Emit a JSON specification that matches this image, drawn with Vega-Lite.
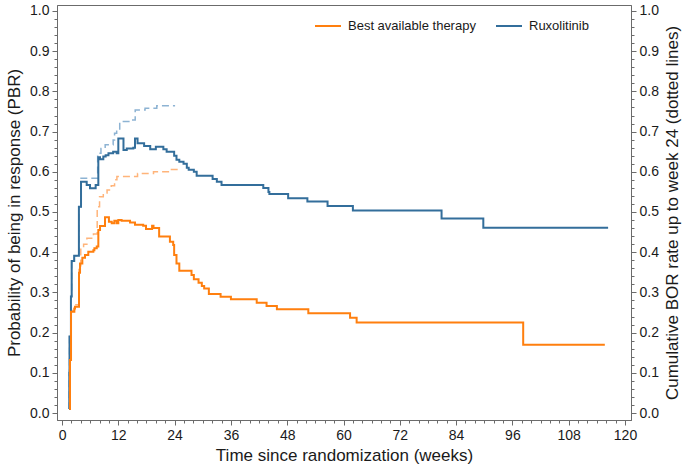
{
  "$schema": "https://vega.github.io/schema/vega-lite/v6.json",
  "width": 574,
  "height": 415,
  "autosize": {"type": "none"},
  "padding": {"left": 57, "top": 5, "right": 54, "bottom": 48},
  "config": {
    "font": "Liberation Sans",
    "view": {"stroke": "#6b6b6b", "strokeWidth": 1},
    "axis": {
      "domainColor": "#6b6b6b",
      "tickColor": "#6b6b6b",
      "labelColor": "#1a1a1a",
      "titleColor": "#1a1a1a",
      "labelFont": "Liberation Sans",
      "titleFont": "Liberation Sans",
      "labelFontSize": 14,
      "titleFontSize": 17,
      "titleFontWeight": "normal",
      "grid": false,
      "labelOverlap": false,
      "labelFlush": false,
      "labelBound": false
    },
    "legend": {
      "labelFont": "Liberation Sans",
      "labelFontSize": 13,
      "labelColor": "#1a1a1a"
    }
  },
  "data": {
    "values": [
      {"arm": "Ruxolitinib", "kind": "PBR", "week": 1.5, "p": 0.01},
      {"arm": "Ruxolitinib", "kind": "PBR", "week": 1.55, "p": 0.1},
      {"arm": "Ruxolitinib", "kind": "PBR", "week": 1.6, "p": 0.19},
      {"arm": "Ruxolitinib", "kind": "PBR", "week": 1.9, "p": 0.29},
      {"arm": "Ruxolitinib", "kind": "PBR", "week": 2.06, "p": 0.378},
      {"arm": "Ruxolitinib", "kind": "PBR", "week": 2.6, "p": 0.391},
      {"arm": "Ruxolitinib", "kind": "PBR", "week": 3.6, "p": 0.513},
      {"arm": "Ruxolitinib", "kind": "PBR", "week": 4.05, "p": 0.575},
      {"arm": "Ruxolitinib", "kind": "PBR", "week": 5.26, "p": 0.567},
      {"arm": "Ruxolitinib", "kind": "PBR", "week": 5.97, "p": 0.559},
      {"arm": "Ruxolitinib", "kind": "PBR", "week": 7.17, "p": 0.567},
      {"arm": "Ruxolitinib", "kind": "PBR", "week": 7.74, "p": 0.636},
      {"arm": "Ruxolitinib", "kind": "PBR", "week": 8.1, "p": 0.631},
      {"arm": "Ruxolitinib", "kind": "PBR", "week": 8.8, "p": 0.638},
      {"arm": "Ruxolitinib", "kind": "PBR", "week": 9.3, "p": 0.641},
      {"arm": "Ruxolitinib", "kind": "PBR", "week": 9.9, "p": 0.646},
      {"arm": "Ruxolitinib", "kind": "PBR", "week": 10.9, "p": 0.65},
      {"arm": "Ruxolitinib", "kind": "PBR", "week": 11.65, "p": 0.646},
      {"arm": "Ruxolitinib", "kind": "PBR", "week": 12.0, "p": 0.683},
      {"arm": "Ruxolitinib", "kind": "PBR", "week": 13.1, "p": 0.654},
      {"arm": "Ruxolitinib", "kind": "PBR", "week": 13.8, "p": 0.658},
      {"arm": "Ruxolitinib", "kind": "PBR", "week": 15.2, "p": 0.66},
      {"arm": "Ruxolitinib", "kind": "PBR", "week": 15.56, "p": 0.683},
      {"arm": "Ruxolitinib", "kind": "PBR", "week": 16.1, "p": 0.671},
      {"arm": "Ruxolitinib", "kind": "PBR", "week": 17.5, "p": 0.664},
      {"arm": "Ruxolitinib", "kind": "PBR", "week": 18.8, "p": 0.656},
      {"arm": "Ruxolitinib", "kind": "PBR", "week": 20.0, "p": 0.662},
      {"arm": "Ruxolitinib", "kind": "PBR", "week": 21.6, "p": 0.656},
      {"arm": "Ruxolitinib", "kind": "PBR", "week": 22.3, "p": 0.65},
      {"arm": "Ruxolitinib", "kind": "PBR", "week": 23.9, "p": 0.64},
      {"arm": "Ruxolitinib", "kind": "PBR", "week": 24.4, "p": 0.63},
      {"arm": "Ruxolitinib", "kind": "PBR", "week": 25.0, "p": 0.625},
      {"arm": "Ruxolitinib", "kind": "PBR", "week": 25.9, "p": 0.62},
      {"arm": "Ruxolitinib", "kind": "PBR", "week": 26.6, "p": 0.61},
      {"arm": "Ruxolitinib", "kind": "PBR", "week": 27.0, "p": 0.605},
      {"arm": "Ruxolitinib", "kind": "PBR", "week": 28.1, "p": 0.6},
      {"arm": "Ruxolitinib", "kind": "PBR", "week": 28.7, "p": 0.59},
      {"arm": "Ruxolitinib", "kind": "PBR", "week": 32.1, "p": 0.582},
      {"arm": "Ruxolitinib", "kind": "PBR", "week": 33.0, "p": 0.575},
      {"arm": "Ruxolitinib", "kind": "PBR", "week": 34.0, "p": 0.567},
      {"arm": "Ruxolitinib", "kind": "PBR", "week": 42.9, "p": 0.56},
      {"arm": "Ruxolitinib", "kind": "PBR", "week": 44.0, "p": 0.55},
      {"arm": "Ruxolitinib", "kind": "PBR", "week": 44.2, "p": 0.545},
      {"arm": "Ruxolitinib", "kind": "PBR", "week": 48.2, "p": 0.534},
      {"arm": "Ruxolitinib", "kind": "PBR", "week": 52.3, "p": 0.526},
      {"arm": "Ruxolitinib", "kind": "PBR", "week": 56.6, "p": 0.515},
      {"arm": "Ruxolitinib", "kind": "PBR", "week": 62.0, "p": 0.504},
      {"arm": "Ruxolitinib", "kind": "PBR", "week": 80.9, "p": 0.484},
      {"arm": "Ruxolitinib", "kind": "PBR", "week": 89.8, "p": 0.461},
      {"arm": "Ruxolitinib", "kind": "PBR", "week": 116.4, "p": 0.461},

      {"arm": "Best available therapy", "kind": "PBR", "week": 1.55, "p": 0.01},
      {"arm": "Best available therapy", "kind": "PBR", "week": 1.7, "p": 0.132},
      {"arm": "Best available therapy", "kind": "PBR", "week": 1.92, "p": 0.252},
      {"arm": "Best available therapy", "kind": "PBR", "week": 2.63, "p": 0.26},
      {"arm": "Best available therapy", "kind": "PBR", "week": 2.77, "p": 0.264},
      {"arm": "Best available therapy", "kind": "PBR", "week": 3.62, "p": 0.349},
      {"arm": "Best available therapy", "kind": "PBR", "week": 3.84, "p": 0.372},
      {"arm": "Best available therapy", "kind": "PBR", "week": 4.33, "p": 0.386},
      {"arm": "Best available therapy", "kind": "PBR", "week": 4.9, "p": 0.393},
      {"arm": "Best available therapy", "kind": "PBR", "week": 5.6, "p": 0.401},
      {"arm": "Best available therapy", "kind": "PBR", "week": 6.68, "p": 0.405},
      {"arm": "Best available therapy", "kind": "PBR", "week": 6.9, "p": 0.41},
      {"arm": "Best available therapy", "kind": "PBR", "week": 7.4, "p": 0.414},
      {"arm": "Best available therapy", "kind": "PBR", "week": 7.74, "p": 0.455},
      {"arm": "Best available therapy", "kind": "PBR", "week": 8.1, "p": 0.465},
      {"arm": "Best available therapy", "kind": "PBR", "week": 9.16, "p": 0.487},
      {"arm": "Best available therapy", "kind": "PBR", "week": 10.0, "p": 0.476},
      {"arm": "Best available therapy", "kind": "PBR", "week": 10.6, "p": 0.472},
      {"arm": "Best available therapy", "kind": "PBR", "week": 11.15, "p": 0.478},
      {"arm": "Best available therapy", "kind": "PBR", "week": 11.65, "p": 0.472},
      {"arm": "Best available therapy", "kind": "PBR", "week": 12.0, "p": 0.48},
      {"arm": "Best available therapy", "kind": "PBR", "week": 12.7, "p": 0.478},
      {"arm": "Best available therapy", "kind": "PBR", "week": 14.5, "p": 0.474},
      {"arm": "Best available therapy", "kind": "PBR", "week": 15.56, "p": 0.468},
      {"arm": "Best available therapy", "kind": "PBR", "week": 17.3, "p": 0.466},
      {"arm": "Best available therapy", "kind": "PBR", "week": 17.9, "p": 0.458},
      {"arm": "Best available therapy", "kind": "PBR", "week": 19.2, "p": 0.466},
      {"arm": "Best available therapy", "kind": "PBR", "week": 19.5, "p": 0.46},
      {"arm": "Best available therapy", "kind": "PBR", "week": 20.7, "p": 0.439},
      {"arm": "Best available therapy", "kind": "PBR", "week": 23.0, "p": 0.426},
      {"arm": "Best available therapy", "kind": "PBR", "week": 23.7, "p": 0.418},
      {"arm": "Best available therapy", "kind": "PBR", "week": 23.9, "p": 0.393},
      {"arm": "Best available therapy", "kind": "PBR", "week": 24.4, "p": 0.372},
      {"arm": "Best available therapy", "kind": "PBR", "week": 25.0, "p": 0.354},
      {"arm": "Best available therapy", "kind": "PBR", "week": 27.6, "p": 0.343},
      {"arm": "Best available therapy", "kind": "PBR", "week": 28.1, "p": 0.333},
      {"arm": "Best available therapy", "kind": "PBR", "week": 29.1, "p": 0.324},
      {"arm": "Best available therapy", "kind": "PBR", "week": 29.8, "p": 0.316},
      {"arm": "Best available therapy", "kind": "PBR", "week": 30.3, "p": 0.31},
      {"arm": "Best available therapy", "kind": "PBR", "week": 31.3, "p": 0.296},
      {"arm": "Best available therapy", "kind": "PBR", "week": 33.8, "p": 0.289},
      {"arm": "Best available therapy", "kind": "PBR", "week": 36.0, "p": 0.283},
      {"arm": "Best available therapy", "kind": "PBR", "week": 41.5, "p": 0.274},
      {"arm": "Best available therapy", "kind": "PBR", "week": 43.6, "p": 0.266},
      {"arm": "Best available therapy", "kind": "PBR", "week": 45.8, "p": 0.258},
      {"arm": "Best available therapy", "kind": "PBR", "week": 52.5, "p": 0.248},
      {"arm": "Best available therapy", "kind": "PBR", "week": 61.4, "p": 0.237},
      {"arm": "Best available therapy", "kind": "PBR", "week": 62.8, "p": 0.225},
      {"arm": "Best available therapy", "kind": "PBR", "week": 98.3, "p": 0.17},
      {"arm": "Best available therapy", "kind": "PBR", "week": 115.7, "p": 0.17},

      {"arm": "Ruxolitinib", "kind": "BOR", "week": 1.5, "p": 0.01},
      {"arm": "Ruxolitinib", "kind": "BOR", "week": 1.55, "p": 0.1},
      {"arm": "Ruxolitinib", "kind": "BOR", "week": 1.6, "p": 0.19},
      {"arm": "Ruxolitinib", "kind": "BOR", "week": 1.9, "p": 0.29},
      {"arm": "Ruxolitinib", "kind": "BOR", "week": 2.06, "p": 0.378},
      {"arm": "Ruxolitinib", "kind": "BOR", "week": 2.6, "p": 0.391},
      {"arm": "Ruxolitinib", "kind": "BOR", "week": 3.6, "p": 0.513},
      {"arm": "Ruxolitinib", "kind": "BOR", "week": 4.05, "p": 0.584},
      {"arm": "Ruxolitinib", "kind": "BOR", "week": 7.6, "p": 0.646},
      {"arm": "Ruxolitinib", "kind": "BOR", "week": 8.3, "p": 0.658},
      {"arm": "Ruxolitinib", "kind": "BOR", "week": 9.2, "p": 0.667},
      {"arm": "Ruxolitinib", "kind": "BOR", "week": 10.9, "p": 0.679},
      {"arm": "Ruxolitinib", "kind": "BOR", "week": 11.2, "p": 0.696},
      {"arm": "Ruxolitinib", "kind": "BOR", "week": 11.65, "p": 0.704},
      {"arm": "Ruxolitinib", "kind": "BOR", "week": 12.3, "p": 0.725},
      {"arm": "Ruxolitinib", "kind": "BOR", "week": 14.8, "p": 0.729},
      {"arm": "Ruxolitinib", "kind": "BOR", "week": 15.6, "p": 0.754},
      {"arm": "Ruxolitinib", "kind": "BOR", "week": 17.7, "p": 0.758},
      {"arm": "Ruxolitinib", "kind": "BOR", "week": 20.2, "p": 0.764},
      {"arm": "Ruxolitinib", "kind": "BOR", "week": 24.1, "p": 0.764},

      {"arm": "Best available therapy", "kind": "BOR", "week": 1.55, "p": 0.01},
      {"arm": "Best available therapy", "kind": "BOR", "week": 1.7, "p": 0.132},
      {"arm": "Best available therapy", "kind": "BOR", "week": 1.92, "p": 0.255},
      {"arm": "Best available therapy", "kind": "BOR", "week": 2.63, "p": 0.265},
      {"arm": "Best available therapy", "kind": "BOR", "week": 2.77, "p": 0.269},
      {"arm": "Best available therapy", "kind": "BOR", "week": 3.62, "p": 0.36},
      {"arm": "Best available therapy", "kind": "BOR", "week": 4.0, "p": 0.41},
      {"arm": "Best available therapy", "kind": "BOR", "week": 4.6, "p": 0.42},
      {"arm": "Best available therapy", "kind": "BOR", "week": 5.3, "p": 0.435},
      {"arm": "Best available therapy", "kind": "BOR", "week": 6.7, "p": 0.445},
      {"arm": "Best available therapy", "kind": "BOR", "week": 7.5, "p": 0.513},
      {"arm": "Best available therapy", "kind": "BOR", "week": 8.0, "p": 0.538},
      {"arm": "Best available therapy", "kind": "BOR", "week": 8.8, "p": 0.547},
      {"arm": "Best available therapy", "kind": "BOR", "week": 9.6, "p": 0.555},
      {"arm": "Best available therapy", "kind": "BOR", "week": 10.5, "p": 0.565},
      {"arm": "Best available therapy", "kind": "BOR", "week": 11.2, "p": 0.58},
      {"arm": "Best available therapy", "kind": "BOR", "week": 11.7, "p": 0.588},
      {"arm": "Best available therapy", "kind": "BOR", "week": 16.1, "p": 0.596},
      {"arm": "Best available therapy", "kind": "BOR", "week": 19.5, "p": 0.6},
      {"arm": "Best available therapy", "kind": "BOR", "week": 23.0, "p": 0.606},
      {"arm": "Best available therapy", "kind": "BOR", "week": 25.0, "p": 0.606}
    ]
  },
  "encoding": {
    "x": {
      "field": "week",
      "type": "quantitative",
      "scale": {"domain": [-1.07, 121.28], "nice": false, "zero": false},
      "axis": {
        "orient": "bottom",
        "values": [0,2,4,6,8,10,12,14,16,18,20,22,24,26,28,30,32,34,36,38,40,42,44,46,48,50,52,54,56,58,60,62,64,66,68,70,72,74,76,78,80,82,84,86,88,90,92,94,96,98,100,102,104,106,108,110,112,114,116,118,120],
        "labelExpr": "datum.value % 12 === 0 ? datum.label : ''",
        "tickSize": {"condition": {"test": "datum.value % 12 === 0", "value": 5}, "value": 3},
        "labelPadding": 3,
        "title": "Time since randomization (weeks)",
        "titlePadding": 5
      }
    }
  },
  "layer": [
    {
      "transform": [{"filter": "datum.kind === 'BOR' && datum.arm === 'Ruxolitinib'"}],
      "mark": {"type": "line", "interpolate": "step-after", "color": "#8db3d3", "strokeWidth": 1.5, "strokeDash": [7, 4]},
      "encoding": {
        "y": {
          "field": "p",
          "type": "quantitative",
          "scale": {"domain": [-0.0174, 1.0149], "nice": false, "zero": false},
          "axis": {
            "orient": "right",
            "values": [0,0.02,0.04,0.06,0.08,0.1,0.12,0.14,0.16,0.18,0.2,0.22,0.24,0.26,0.28,0.3,0.32,0.34,0.36,0.38,0.4,0.42,0.44,0.46,0.48,0.5,0.52,0.54,0.56,0.58,0.6,0.62,0.64,0.66,0.68,0.7,0.72,0.74,0.76,0.78,0.8,0.82,0.84,0.86,0.88,0.9,0.92,0.94,0.96,0.98,1],
            "labelExpr": "abs(datum.value*10 - round(datum.value*10)) < 0.001 ? format(datum.value, '.1f') : ''",
            "tickSize": {"condition": {"test": "abs(datum.value*10 - round(datum.value*10)) < 0.001", "value": 5}, "value": 3},
            "labelPadding": 3,
            "title": "Cumulative BOR rate up to week 24 (dotted lines)",
            "titleAngle": 270,
            "titleBaseline": "top",
            "titlePadding": 6
          }
        }
      }
    },
    {
      "transform": [{"filter": "datum.kind === 'BOR' && datum.arm === 'Best available therapy'"}],
      "mark": {"type": "line", "interpolate": "step-after", "color": "#ffb47a", "strokeWidth": 1.5, "strokeDash": [7, 4]},
      "encoding": {
        "y": {
          "field": "p",
          "type": "quantitative",
          "scale": {"domain": [-0.0174, 1.0149], "nice": false, "zero": false},
          "axis": null
        }
      }
    },
    {
      "transform": [{"filter": "datum.kind === 'PBR'"}],
      "mark": {"type": "line", "interpolate": "step-after", "strokeWidth": 2},
      "encoding": {
        "y": {
          "field": "p",
          "type": "quantitative",
          "scale": {"domain": [-0.0174, 1.0149], "nice": false, "zero": false},
          "axis": {
            "orient": "left",
            "values": [0,0.02,0.04,0.06,0.08,0.1,0.12,0.14,0.16,0.18,0.2,0.22,0.24,0.26,0.28,0.3,0.32,0.34,0.36,0.38,0.4,0.42,0.44,0.46,0.48,0.5,0.52,0.54,0.56,0.58,0.6,0.62,0.64,0.66,0.68,0.7,0.72,0.74,0.76,0.78,0.8,0.82,0.84,0.86,0.88,0.9,0.92,0.94,0.96,0.98,1],
            "labelExpr": "abs(datum.value*10 - round(datum.value*10)) < 0.001 ? format(datum.value, '.1f') : ''",
            "tickSize": {"condition": {"test": "abs(datum.value*10 - round(datum.value*10)) < 0.001", "value": 5}, "value": 3},
            "labelPadding": 3,
            "title": "Probability of being in response (PBR)",
            "titlePadding": 6
          }
        },
        "color": {
          "field": "arm",
          "type": "nominal",
          "scale": {"domain": ["Best available therapy", "Ruxolitinib"], "range": ["#ff7f0e", "#336e9b"]},
          "legend": {
            "orient": "none",
            "legendX": 257,
            "legendY": 7,
            "direction": "horizontal",
            "title": null,
            "symbolType": "stroke",
            "symbolSize": 676,
            "symbolStrokeWidth": 2,
            "columnPadding": 16,
            "labelOffset": 6,
            "padding": 0
          }
        }
      }
    }
  ],
  "resolve": {"axis": {"y": "independent"}}
}
